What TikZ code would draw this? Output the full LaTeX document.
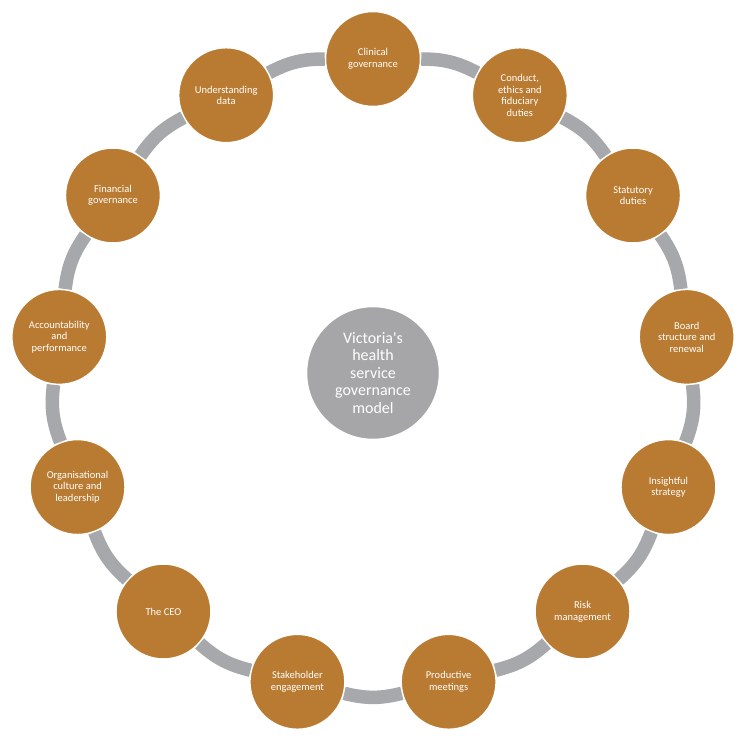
\documentclass[tikz,border=0pt]{standalone}
\usepackage{fontspec}
\setmainfont{Carlito}
\usepackage{xcolor}
\definecolor{topicgold}{HTML}{B97B31}
\definecolor{ringgrey}{HTML}{A7A8AC}
\definecolor{hubgrey}{HTML}{A6A6A8}

\begin{document}
\begin{tikzpicture}[x=1pt,y=1pt,
    topic/.style={circle,fill=topicgold,draw=white,line width=1.5pt,
      minimum size=95pt,inner sep=0pt,align=center,text=white,
      font=\fontsize{10.5}{11.5}\selectfont},
    hub/.style={circle,fill=hubgrey,draw=white,line width=1.5pt,
      minimum size=133pt,inner sep=0pt,align=center,text=white,
      font=\fontsize{16}{17.5}\selectfont},
    ring/.style={draw=ringgrey,line width=13.5pt,bend left=13.85}]
  \path[use as bounding box] (0,0) rectangle (744,741);

  \node (vm) [hub] at (373,368)
    {Victoria\textquotesingle s\\health\\service\\governance\\model};

  \begin{scope}[shift={(373,366)}]
    \node (cg)  [topic] at (90:316)      {Clinical\\governance};
    \node (ce)  [topic] at (62.308:316)  {Conduct,\\ethics and\\fiduciary\\duties};
    \node (sd)  [topic] at (34.615:316)  {Statutory\\duties};
    \node (bs)  [topic] at (6.923:316)   {Board\\structure and\\renewal};
    \node (is)  [topic] at (-20.769:316) {Insightful\\strategy};
    \node (rm)  [topic] at (-48.462:316) {Risk\\management};
    \node (pm)  [topic] at (-76.154:316) {Productive\\meetings};
    \node (se)  [topic] at (-103.846:316) {Stakeholder\\engagement};
    \node (ceo) [topic] at (-131.538:316) {The CEO};
    \node (oc)  [topic] at (-159.231:316) {Organisational\\culture and\\leadership};
    \node (ap)  [topic] at (173.077:316) {Accountability\\and\\performance};
    \node (fg)  [topic] at (145.385:316) {Financial\\governance};
    \node (ud)  [topic] at (117.692:316) {Understanding\\data};
  \end{scope}

  \draw[ring] (cg) to (ce);
  \draw[ring] (ce) to (sd);
  \draw[ring] (sd) to (bs);
  \draw[ring] (bs) to (is);
  \draw[ring] (is) to (rm);
  \draw[ring] (rm) to (pm);
  \draw[ring] (pm) to (se);
  \draw[ring] (se) to (ceo);
  \draw[ring] (ceo) to (oc);
  \draw[ring] (oc) to (ap);
  \draw[ring] (ap) to (fg);
  \draw[ring] (fg) to (ud);
  \draw[ring] (ud) to (cg);
\end{tikzpicture}
\end{document}
